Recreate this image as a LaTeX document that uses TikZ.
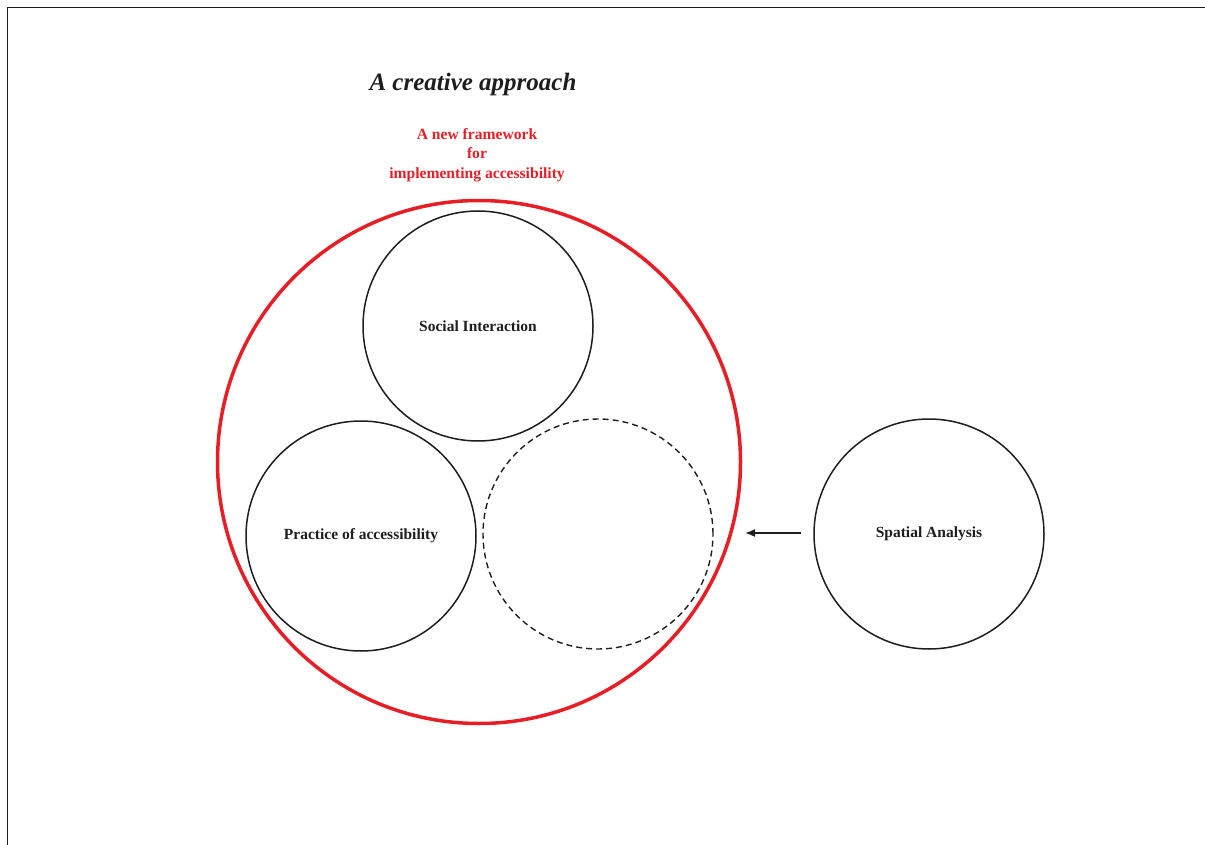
\documentclass[tikz,border=0pt]{standalone}
\usepackage{fontspec}
\setmainfont{Liberation Serif}
\usetikzlibrary{arrows.meta}
\definecolor{fwred}{RGB}{232,30,38}
\definecolor{ink}{RGB}{30,30,30}
\tikzset{
  smallcirc/.style={circle, draw=ink, line width=1.5pt, minimum size=230pt, inner sep=0pt,
    font=\bfseries\fontsize{15.5}{17}\selectfont, text=ink},
  bigcirc/.style={circle, draw=fwred, line width=3.5pt, minimum size=523pt, inner sep=0pt},
  dashcirc/.style={circle, draw=ink, line width=1.4pt, dash pattern=on 6pt off 4pt, minimum size=230pt, inner sep=0pt},
  redlabel/.style={text=fwred, font=\bfseries\fontsize{15.6}{19.5}\selectfont, align=center},
  titlelabel/.style={text=ink, font=\bfseries\itshape\fontsize{25}{28}\selectfont},
  framelinestyle/.style={draw=ink, line width=1.2pt}
}
\begin{document}
\begin{tikzpicture}[x=1pt,y=-1pt]
\useasboundingbox (0,0) rectangle (1205,845);
\coordinate (ftl) at (7.5,7.5);
\coordinate (ftr) at (1205,7.5);
\coordinate (fbl) at (7.5,845);
\draw[framelinestyle] (ftr) -- (ftl) -- (fbl);
\node[titlelabel] (title) at (473,84) {A creative approach};
\node[redlabel] (fw) at (477,155) {A new framework\\for\\implementing accessibility};
\node[bigcirc] (big) at (479,462) {};
\node[smallcirc] (social) at (478,326) {Social Interaction};
\node[smallcirc] (practice) at (361,536) {Practice of accessibility};
\node[dashcirc] (dash) at (598,534) {};
\node[smallcirc] (spatial) at (929,534) {Spatial Analysis};
\coordinate (arrstart) at (801,533);
\coordinate (arrend) at (745,533);
\draw[ink, line width=1.6pt, -{Latex[length=10pt,width=8pt]}] (arrstart) -- (arrend);
\end{tikzpicture}
\end{document}
